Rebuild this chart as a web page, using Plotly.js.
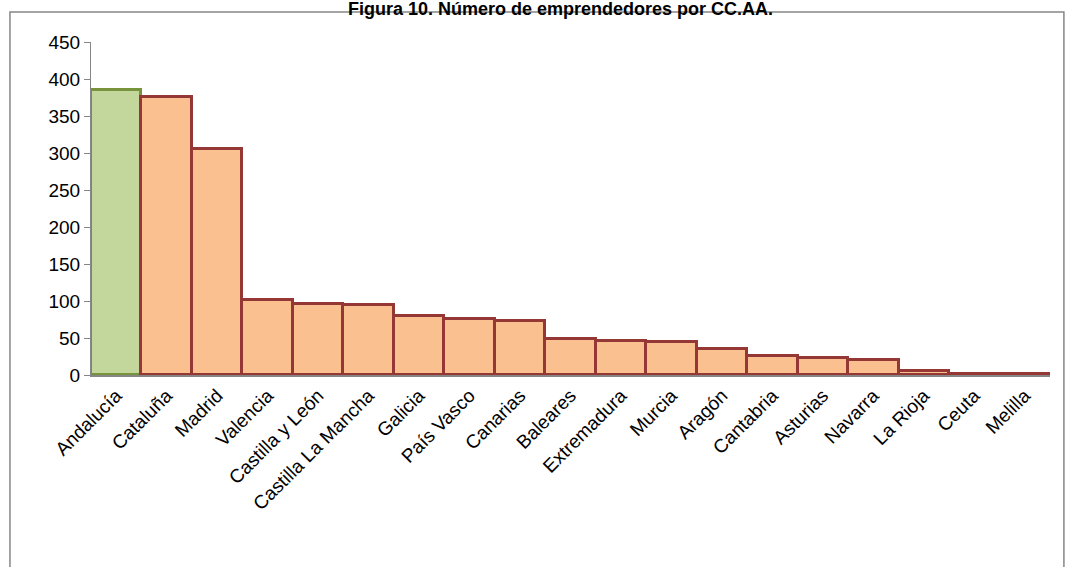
<!DOCTYPE html><html><head><script src="https://cdn.plot.ly/plotly-3.0.1.min.js"></script></head><body style="margin:0"><div id="c" style="width:1065px;height:567px"></div><script>
const regions=["Andalucía","Cataluña","Madrid","Valencia","Castilla y León","Castilla La Mancha","Galicia","País Vasco","Canarias","Baleares","Extremadura","Murcia","Aragón","Cantabria","Asturias","Navarra","La Rioja","Ceuta","Melilla"];
const values=[385,376,305,101,96,95,80,76,73,49,46,45,35,26,23,20,6,1,1];
const fill=regions.map((r,i)=>i===0?'#c3d69b':'#fac090');
const line=regions.map((r,i)=>i===0?'#77933c':'#953735');
Plotly.newPlot('c',[{type:'bar',x:regions,y:values,marker:{color:fill,line:{color:line,width:3}}}],{
width:1065,height:567,margin:{l:91,r:15,t:42,b:192},bargap:0,showlegend:false,
paper_bgcolor:'#fff',plot_bgcolor:'#fff',font:{family:'Liberation Sans, Arial',color:'#000'},
xaxis:{tickangle:-45,tickfont:{size:19},showline:true,linecolor:'#868686',linewidth:2,ticks:'outside',ticklen:0},
yaxis:{range:[0,450],dtick:50,tickfont:{size:19},showgrid:false,showline:true,linecolor:'#868686',ticks:'outside',ticklen:6,tickcolor:'#868686',zeroline:false},
annotations:[{xref:'paper',yref:'paper',x:0.49,y:1.098,yanchor:'middle',showarrow:false,text:'<b>Figura 10. Número de emprendedores por CC.AA.</b>',font:{size:18}}],
shapes:[{type:'rect',xref:'paper',yref:'paper',x0:-0.0845,x1:1.0145,y0:1.09,y1:-0.6,line:{color:'#868686',width:1.5}}]
},{displayModeBar:false});
</script></body></html>
